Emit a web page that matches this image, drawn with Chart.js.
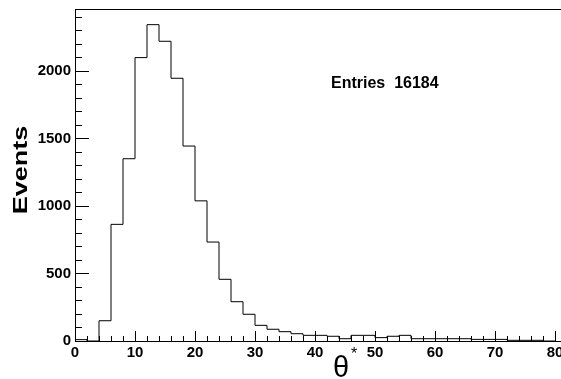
<!DOCTYPE html>
<html>
<head>
<meta charset="utf-8">
<script src="https://cdn.jsdelivr.net/npm/chart.js@4.4.1/dist/chart.umd.min.js"></script>
<style>
  html, body { margin: 0; padding: 0; background: #fff; }
  #wrap { width: 561px; height: 379px; }
</style>
</head>
<body>
<div id="wrap"><canvas id="hist" width="561" height="379"></canvas></div>
<script>
// bin edges (theta*, width 2)
const binEdges = [0, 2, 4, 6, 8, 10, 12, 14, 16, 18, 20, 22, 24, 26, 28, 30, 32, 34, 36, 38, 40,
                  42, 44, 46, 48, 50, 52, 54, 56, 58, 60, 62, 64, 66, 68, 70, 72, 74, 76, 78, 80];
// events per bin
const counts = [10, 0, 150, 864, 1350, 2099, 2343, 2220, 1946, 1444, 1038, 733, 457, 291, 198, 116, 87, 69, 54, 42,
                42, 35, 17, 42, 42, 25, 35, 42, 17, 17, 17, 17, 17, 12, 12, 12, 5, 5, 5, 0];
const xTicks = [0, 10, 20, 30, 40, 50, 60, 70, 80];
const yTicks = [0, 500, 1000, 1500, 2000];
const entries = 16184;

// step points: chart.js "after" rises at the previous x, then runs to the next one
const points = [{ x: binEdges[0], y: 0 }];
counts.forEach((c, i) => points.push({ x: binEdges[i + 1], y: c }));

// frame, ROOT-like inward ticks and labels
const rootAxes = {
    id: "rootAxes",
    afterDraw(chart) {
        const ctx = chart.ctx;
        const xs = chart.scales.x, ys = chart.scales.y;
        const a = chart.chartArea;
        const y0 = ys.getPixelForValue(0);
        const x0 = xs.getPixelForValue(0);
        const xEnd = binEdges[binEdges.length - 1];

        ctx.save();
        ctx.strokeStyle = "#000";
        ctx.lineWidth = 1;
        ctx.beginPath();
        ctx.moveTo(x0 + 0.5, a.top + 0.5);
        ctx.lineTo(a.right, a.top + 0.5);
        ctx.moveTo(x0 + 0.5, a.top);
        ctx.lineTo(x0 + 0.5, y0 + 0.5);
        ctx.lineTo(a.right, y0 + 0.5);
        ctx.stroke();

        // y ticks
        ctx.beginPath();
        for (let v = 0; v <= ys.max; v += 100) {
            const py = Math.round(ys.getPixelForValue(v)) + 0.5;
            const len = v % 500 === 0 ? 14 : 7;
            ctx.moveTo(x0, py);
            ctx.lineTo(x0 + len, py);
        }
        // x ticks
        for (let v = 0; v <= xEnd; v += 2) {
            const px = Math.round(xs.getPixelForValue(v)) + 0.5;
            const len = v % 10 === 0 ? 10 : 5;
            ctx.moveTo(px, y0);
            ctx.lineTo(px, y0 - len);
        }
        ctx.stroke();

        ctx.fillStyle = "#000";
        ctx.font = "bold 15px 'Liberation Sans', Arial, sans-serif";
        ctx.textAlign = "right";
        ctx.textBaseline = "middle";
        yTicks.forEach(v => ctx.fillText(String(v), x0 - 4, ys.getPixelForValue(v)));

        ctx.textAlign = "center";
        ctx.textBaseline = "top";
        xTicks.forEach(v => ctx.fillText(String(v), xs.getPixelForValue(v), y0 + 4));

        // axis titles
        ctx.save();
        ctx.translate(27, 170);
        ctx.rotate(-Math.PI / 2);
        ctx.scale(1.35, 1);
        ctx.font = "bold 20px 'Liberation Sans', Arial, sans-serif";
        ctx.textAlign = "center";
        ctx.textBaseline = "alphabetic";
        ctx.fillText("Events", 0, 0);
        ctx.restore();

        ctx.font = "29px 'Liberation Sans', Arial, sans-serif";
        ctx.textAlign = "left";
        ctx.textBaseline = "alphabetic";
        ctx.fillText("θ", 333, 377);
        ctx.font = "16px 'Liberation Sans', Arial, sans-serif";
        ctx.fillText("*", 351, 359);

        // stats text
        ctx.font = "bold 16px 'Liberation Sans', Arial, sans-serif";
        ctx.textBaseline = "middle";
        ctx.fillText("Entries  " + entries, 331, 84);
        ctx.restore();
    }
};

new Chart(document.getElementById("hist"), {
    type: "line",
    data: {
        datasets: [{
            data: points,
            stepped: "after",
            borderColor: "#000",
            borderWidth: 1,
            pointRadius: 0,
            fill: false
        }]
    },
    options: {
        responsive: false,
        animation: false,
        layout: { padding: { left: 75, top: 9, right: 0, bottom: 38 } },
        scales: {
            x: { type: "linear", min: 0, max: 81, display: false },
            y: { min: 0, max: 2459, display: false }
        },
        plugins: { legend: { display: false }, tooltip: { enabled: false } }
    },
    plugins: [rootAxes]
});
</script>
</body>
</html>
